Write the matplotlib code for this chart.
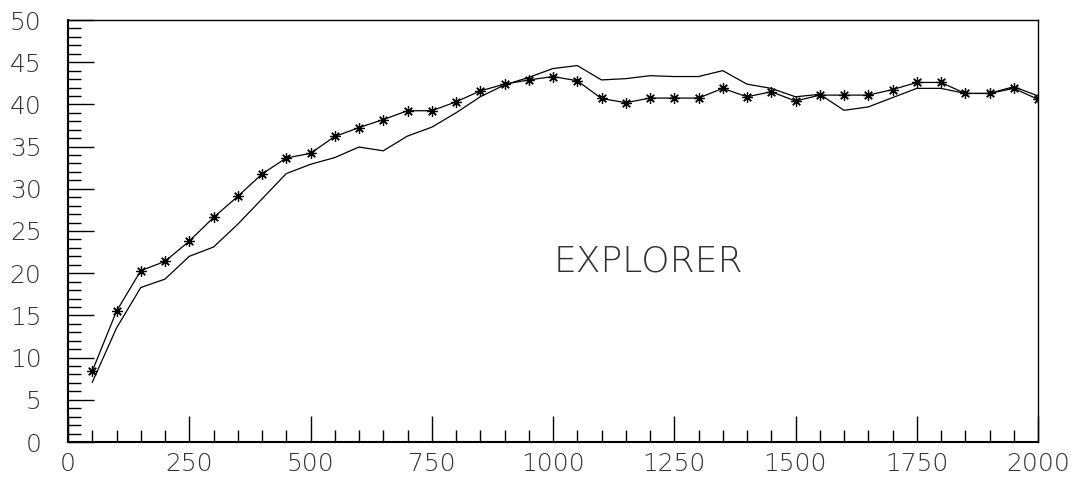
import numpy as np
import matplotlib.pyplot as plt
from matplotlib.ticker import MultipleLocator

# valeurs (x = 50 .. 2000 par pas de 50)
x = list(range(50, 2001, 50))
star = [8.4, 15.5, 20.3, 21.4, 23.8, 26.6, 29.1, 31.75, 33.65, 34.2,
        36.2, 37.25, 38.2, 39.25, 39.25, 40.3, 41.6, 42.4, 42.9, 43.3,
        42.8, 40.7, 40.2, 40.75, 40.75, 40.75, 41.9, 40.9, 41.5, 40.4,
        41.1, 41.1, 41.1, 41.75, 42.6, 42.6, 41.3, 41.3, 41.9, 40.6]
plain = [7.07, 13.5, 18.3, 19.3, 22.0, 23.1, 25.8, 28.8, 31.8, 32.9,
         33.7, 34.95, 34.5, 36.25, 37.3, 39.0, 40.9, 42.3, 43.2, 44.25,
         44.6, 42.9, 43.05, 43.4, 43.3, 43.3, 44.0, 42.4, 41.9, 40.9,
         41.2, 39.3, 39.7, 40.8, 41.9, 41.9, 41.3, 41.3, 42.1, 41.0]
label = 'EXPLORER'

plt.rcParams['font.family'] = ['DejaVu Sans']

fig = plt.figure(figsize=(10.8, 4.82), dpi=100)
ax = fig.add_axes([68/1080, 40/482, 970/1080, 422/482])

ax.plot(x, plain, color='black', lw=0.9)
ax.plot(x, star, color='black', lw=0.9, marker=(8, 2, 0), ms=7.5, mew=0.9)

ax.set_xlim(0, 2000)
ax.set_ylim(0, 50)
ax.xaxis.set_major_locator(MultipleLocator(250))
ax.xaxis.set_minor_locator(MultipleLocator(50))
ax.yaxis.set_major_locator(MultipleLocator(5))
ax.yaxis.set_minor_locator(MultipleLocator(1))
ax.tick_params(which='both', direction='in', top=False, right=False, color='black')
ax.tick_params(which='major', length=19, width=1, labelsize=18, labelcolor='#333333')
ax.tick_params(which='minor', length=9, width=1)
ax.tick_params(axis='x', which='major', pad=7)
ax.tick_params(axis='y', which='major', pad=19)
for s in ax.spines.values():
    s.set_linewidth(1.0)
ax.spines['left'].set_linewidth(1.5)
ax.spines['bottom'].set_linewidth(1.5)

for t in ax.get_xticklabels() + ax.get_yticklabels():
    t.set_fontweight('light')

ax.text(1196, 21.4, label, ha='center', va='center', fontsize=26,
        fontweight='light', color='#333333')

fig.savefig('out.png', dpi=100)
